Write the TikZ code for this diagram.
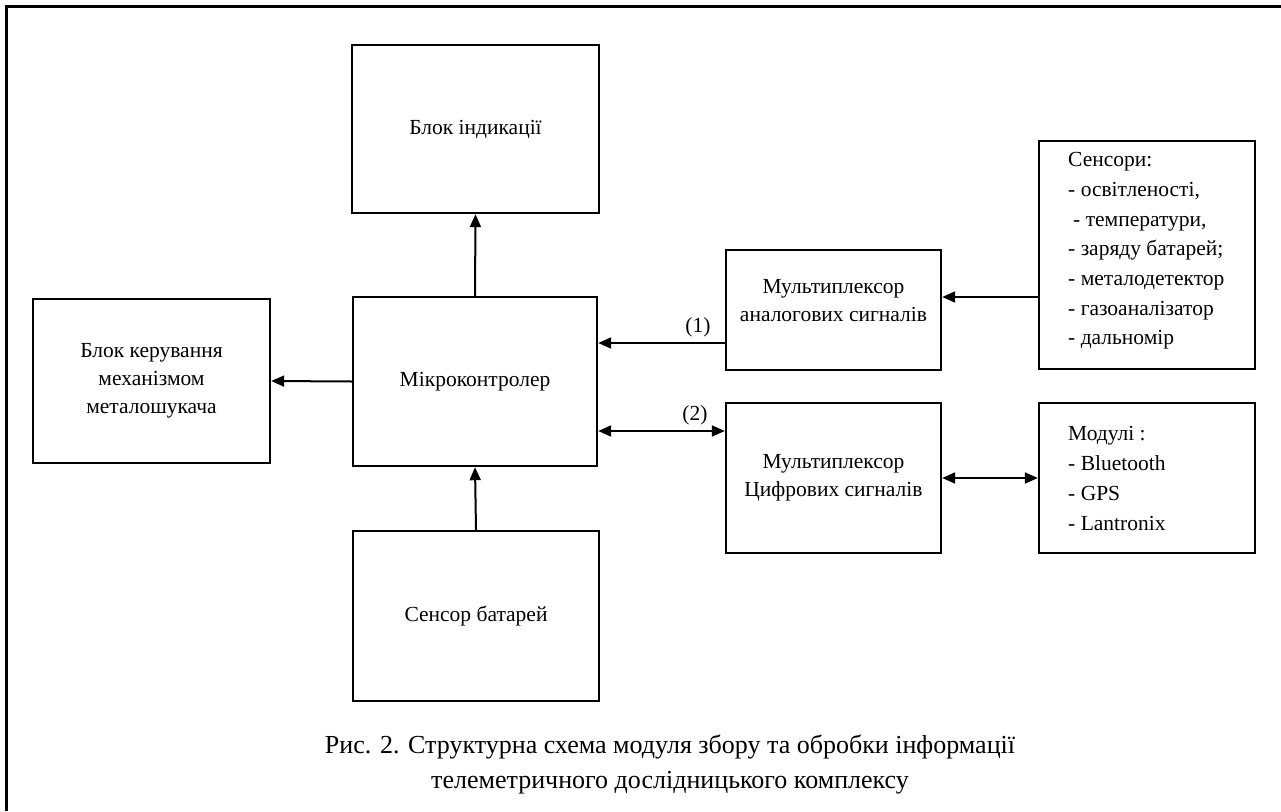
\documentclass[tikz,border=0pt]{standalone}
\usepackage{fontspec}
\setmainfont{Liberation Serif}
\usetikzlibrary{arrows.meta}
\begin{document}
\begin{tikzpicture}[x=1pt,y=-1pt,
  blk/.style={draw=black,line width=2.4pt,minimum width=#1,inner sep=0pt,anchor=center},
  txt/.style={font=\fontsize{21.5}{28}\selectfont,align=center,inner sep=0pt},
  arr/.style={line width=2pt,-{Triangle[length=13pt,width=11pt]}},
  darr/.style={line width=2pt,{Triangle[length=13pt,width=11pt]}-{Triangle[length=13pt,width=11pt]}}]
\useasboundingbox (0,0) rectangle (1281,811);
\fill[white] (0,0) rectangle (1281,811);
% outer frame (top and left sides visible)
\draw[line width=3pt] (6,811) -- (6,6.5) -- (1281,6.5);
% boxes
\node[blk=247pt,minimum height=168pt] (ind) at (475.5,129) {};
\node[blk=237pt,minimum height=164pt] (ctrl) at (151.5,381) {};
\node[blk=244pt,minimum height=169pt] (mcu) at (475,381.5) {};
\node[blk=246pt,minimum height=170pt] (bat) at (476,616) {};
\node[blk=215pt,minimum height=120pt] (mux1) at (833.5,310) {};
\node[blk=215pt,minimum height=150pt] (mux2) at (833.5,478) {};
\node[blk=216pt,minimum height=228pt] (sens) at (1147,255) {};
\node[blk=216pt,minimum height=150pt] (mods) at (1147,478) {};
% texts
\node[txt] (tind) at (ind.center) {Блок індикації};
\node[txt] (tctrl) at (ctrl.center) {Блок керування\\механізмом\\металошукача};
\node[txt] (tmcu) at (mcu.center) {Мікроконтролер};
\node[txt] (tbat) at (bat.center) {Сенсор батарей};
\node[txt] (tmux1) at (833.5,301) {Мультиплексор\\аналогових сигналів};
\node[txt] (tmux2) at (mux2.center) {Мультиплексор\\Цифрових сигналів};
\node[txt,align=left,anchor=west,font=\fontsize{21.5}{29.7}\selectfont] (tsens) at (1068,251) {Сенсори:\\- освітленості,\\\hspace*{5pt}- температури,\\- заряду батарей;\\- металодетектор\\- газоаналізатор\\- дальномір};
\node[txt,align=left,anchor=west,font=\fontsize{21.5}{30}\selectfont] (tmods) at (1068,478) {Модулі :\\- Bluetooth\\- GPS\\- Lantronix};
% connector levels
\coordinate (y1) at (0,343);
\coordinate (y2) at (0,431);
\coordinate (ys) at (0,297);
% connectors
\draw[arr] (mcu.north) -- (ind.south);
\draw[arr] (bat.north) -- (mcu.south);
\draw[arr] (mcu.west) -- (ctrl.east);
\draw[arr] (mux1.west |- y1) -- (mcu.east |- y1);
\draw[darr] (mcu.east |- y2) -- (mux2.west |- y2);
\draw[arr] (sens.west |- ys) -- (mux1.east |- ys);
\draw[darr] (mux2.east) -- (mods.west);
% labels
\node[txt] (l1) at (698,327) {(1)};
\node[txt] (l2) at (695,415) {(2)};
% caption
\node[txt,font=\fontsize{26}{35}\selectfont] (cap) at (670,764) {Рис. 2. Структурна схема модуля збору та обробки інформації\\телеметричного дослідницького комплексу};
\end{tikzpicture}
\end{document}
